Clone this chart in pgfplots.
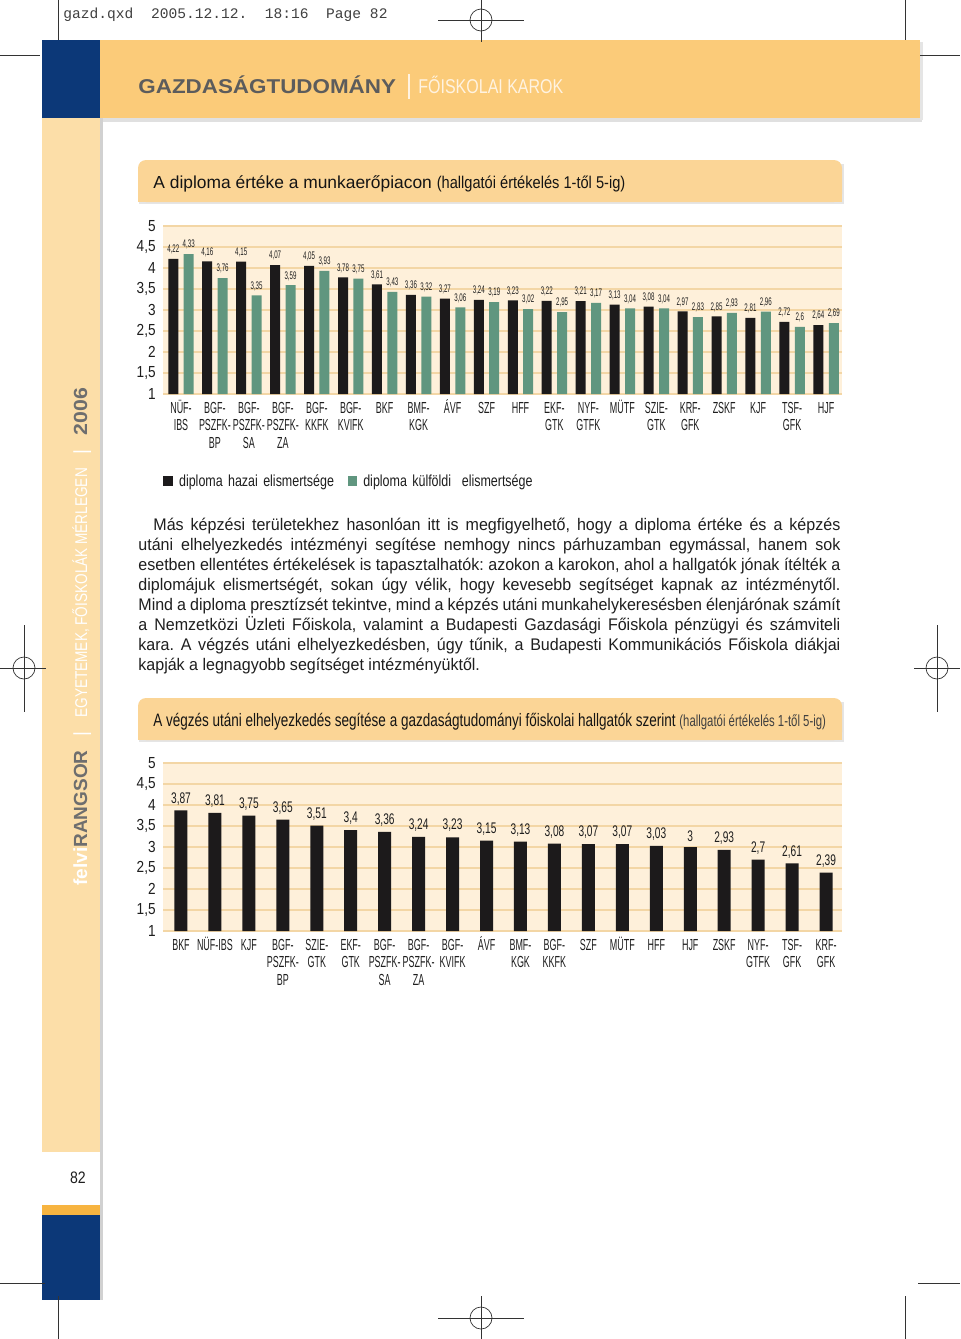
\documentclass[border=0pt]{standalone}
\usepackage{pgfplots}
\pgfplotsset{compat=1.18}
\usepackage{pgfplotstable}
\usepackage{fontspec}
\setmainfont{Liberation Sans}
\setmonofont{Liberation Mono}
\newfontfamily\fXt[FakeStretch=0.56]{Liberation Sans}
\newfontfamily\fYt[FakeStretch=0.85]{Liberation Sans}
\newfontfamily\fVa[FakeStretch=0.56]{Liberation Sans}
\newfontfamily\fVb[FakeStretch=0.66]{Liberation Sans}
\newfontfamily\fLeg[FakeStretch=0.78]{Liberation Sans}
\newfontfamily\fBody[FakeStretch=0.955]{Liberation Sans}
\newfontfamily\fTp[FakeStretch=0.86]{Liberation Sans}
\newfontfamily\fTb[FakeStretch=0.75]{Liberation Sans}
\newfontfamily\fTbp[FakeStretch=0.71]{Liberation Sans}
\newfontfamily\fWide[FakeStretch=1.12]{Liberation Sans}
\newfontfamily\fLight[FakeStretch=0.8]{Liberation Sans}
\frenchspacing
\newcommand{\V}{\vphantom{Ü}}

\definecolor{navy}{RGB}{12,56,120}
\definecolor{banner}{RGB}{251,203,121}
\definecolor{side}{RGB}{252,222,168}
\definecolor{tbox}{RGB}{251,213,150}
\definecolor{plotbg}{RGB}{254,240,218}
\definecolor{gridc}{RGB}{243,214,165}
\definecolor{tealb}{RGB}{96,150,127}
\definecolor{strip}{RGB}{247,180,64}
\definecolor{barc}{RGB}{28,26,27}
\definecolor{tickc}{RGB}{30,30,30}
\definecolor{bgray}{RGB}{92,92,92}
\definecolor{sgray}{RGB}{110,110,110}
\definecolor{lighttxt}{RGB}{255,243,225}

\pgfplotstableread{
x h k
0 4.22 4.33
1 4.16 3.76
2 4.15 3.35
3 4.07 3.59
4 4.05 3.93
5 3.78 3.75
6 3.61 3.43
7 3.36 3.32
8 3.27 3.06
9 3.24 3.19
10 3.23 3.02
11 3.22 2.95
12 3.21 3.17
13 3.13 3.04
14 3.08 3.04
15 2.97 2.83
16 2.85 2.93
17 2.81 2.96
18 2.72 2.60
19 2.64 2.69
}\dataA

\pgfplotstableread{
x v
0 3.87
1 3.81
2 3.75
3 3.65
4 3.51
5 3.4
6 3.36
7 3.24
8 3.23
9 3.15
10 3.13
11 3.08
12 3.07
13 3.07
14 3.03
15 3
16 2.93
17 2.7
18 2.61
19 2.39
}\dataB

\pgfplotsset{
 pagebar/.style={
  scale only axis, width=339.5pt, height=84pt,
  xmin=-0.53, xmax=19.47, ymin=1, ymax=5,
  ytick={1,1.5,2,2.5,3,3.5,4,4.5,5},
  xtick={0,...,19},
  axis line style={draw=none}, tick style={draw=none}, major tick length=0pt,
  ymajorgrids, grid style={gridc, line width=0.6pt},
  axis background/.style={fill=plotbg},
  ybar,
  /pgf/number format/use comma,
  /pgf/number format/assume math mode=true,
  yticklabel style={font=\fYt\fontsize{8}{9}\selectfont, text=tickc, anchor=east, inner sep=0pt, xshift=-3.5pt},
  xticklabel style={font=\fXt\fontsize{8}{8.75}\selectfont\vphantom{Ü}, text=tickc, align=center, anchor=north, inner sep=0pt, yshift=-2.75pt},
  clip=false,
 }
}

\newcommand{\pl}[2]{\node[anchor=base west, inner sep=0pt] at (138,#1) {\fBody\fontsize{8.4}{10}\selectfont\makebox[351pt][s]{#2}};}

\begin{document}
\begin{tikzpicture}
\useasboundingbox (0pt,0pt) rectangle (480pt,-669.5pt);
\begin{scope}[x=0.5pt,y=-0.5pt]
 \fill[white] (0,0) rectangle (960,1339);
 % banner and sidebar
 \fill[black!12] (100,118) rectangle (922,122);
 \fill[black!10] (920,42) rectangle (923,120);
 \fill[banner] (100,40) rectangle (920,118);
 \fill[navy] (42,40) rectangle (100,118);
 \fill[side] (42,118) rectangle (100,1152);
 \fill[strip] (42,1205) rectangle (100,1215);
 \fill[navy] (42,1215) rectangle (100,1300);
 \fill[black!18] (100,118) rectangle (103,1300);
 % title boxes
 \fill[black!10] (139,164) rectangle (844,204);
 \fill[tbox, rounded corners=4pt] (138,160) rectangle (842,202);
 \fill[tbox] (138,185) rectangle (842,202);
 \fill[black!10] (139,702) rectangle (844,742);
 \fill[tbox, rounded corners=4pt] (138,698) rectangle (842,740);
 \fill[tbox] (138,720) rectangle (842,740);
\end{scope}

% ---------- chart 1
\begin{axis}[pagebar,
  at={(81.5pt,-197pt)}, anchor=south west,
  bar width=5pt,
  xticklabels={{NÜF-\\IBS},{\V BGF-\\PSZFK-\\BP},{\V BGF-\\PSZFK-\\SA},{\V BGF-\\PSZFK-\\ZA},{\V BGF-\\KKFK},{\V BGF-\\KVIFK},BKF,{\V BMF-\\KGK},ÁVF,SZF,HFF,{\V EKF-\\GTK},{\V NYF-\\GTFK},MÜTF,{\V SZIE-\\GTK},{\V KRF-\\GFK},ZSKF,KJF,{\V TSF-\\GFK},HJF},
  nodes near coords,
  every node near coord/.append style={font=\fVa\fontsize{5.5}{6}\selectfont, text=tickc, inner sep=0pt, yshift=2.2pt, anchor=south},
  legend columns=2,
  legend style={at={(0,0)}, anchor=west, yshift=-43.5pt, draw=none, fill=none, inner sep=0pt,
    font=\fLeg\fontsize{8}{9}\selectfont, text=tickc,
    nodes={inner xsep=3.25pt, inner ysep=0pt, text width=81pt, align=left, text depth=0pt},
    column sep=0pt},
  legend image code/.code={\fill[#1] (0pt,-2.3pt) rectangle (4.6pt,2.3pt);},
]
\addplot[fill=barc, draw=none, bar shift=-3.85pt] table[x=x,y=h]{\dataA};
\addplot[fill=tealb, draw=none, bar shift=3.85pt] table[x=x,y=k]{\dataA};
\legend{\mbox{diploma hazai elismertsége}, \mbox{diploma külföldi\ \ elismertsége}}
\end{axis}

% ---------- chart 2
\begin{axis}[pagebar,
  at={(81.5pt,-465.5pt)}, anchor=south west,
  bar width=6.5pt,
  xticklabels={BKF,NÜF-IBS,KJF,{\V BGF-\\PSZFK-\\BP},{\V SZIE-\\GTK},{\V EKF-\\GTK},{\V BGF-\\PSZFK-\\SA},{\V BGF-\\PSZFK-\\ZA},{\V BGF-\\KVIFK},ÁVF,{\V BMF-\\KGK},{\V BGF-\\KKFK},SZF,MÜTF,HFF,HJF,ZSKF,{\V NYF-\\GTFK},{\V TSF-\\GFK},{\V KRF-\\GFK}},
  nodes near coords,
  every node near coord/.append style={font=\fVb\fontsize{7.7}{8}\selectfont, text=tickc, inner sep=0pt, yshift=2.5pt, anchor=south},
]
\addplot[fill=barc, draw=none, bar shift=0pt] table[x=x,y=v]{\dataB};
\end{axis}

\begin{scope}[x=0.5pt,y=-0.5pt]
 % header texts
 \node[anchor=base west, inner sep=0pt, text=black!75] at (63,18) {\ttfamily\fontsize{7.3}{8}\selectfont gazd.qxd\ \ 2005.12.12.\ \ 18:16\ \ Page 82};
 \node[anchor=base west, inner sep=0pt, text=bgray] at (138,93) {\fWide\bfseries\fontsize{10}{12}\selectfont GAZDASÁGTUDOMÁNY};
 \draw[lighttxt, line width=0.6pt] (409,74) -- (409,99);
 \node[anchor=base west, inner sep=0pt, text=lighttxt] at (418,93) {\fLight\fontsize{10}{12}\selectfont FŐISKOLAI KAROK};
 % sidebar
 \node[rotate=90, anchor=base west, inner sep=0pt] at (87,886) {\fontsize{9.5}{11}\selectfont{\color{white}\bfseries felvi}{\color{sgray}\bfseries RANGSOR}\hspace{7pt}{\color{white}|}\hspace{7pt}{\color{white}\fLight\fontsize{8.5}{10}\selectfont EGYETEMEK, FŐISKOLÁK MÉRLEGEN}\hspace{7pt}{\color{white}|}\hspace{7pt}{\color{sgray}\fWide\bfseries 2006}};
 \node[inner sep=0pt, text=tickc] at (78,1178) {\fYt\fontsize{8.3}{9}\selectfont 82};
 % titles
 \node[anchor=base west, inner sep=0pt, text=black!92] at (153,188) {\fontsize{8.7}{10}\selectfont A diploma értéke a munkaerőpiacon {\fTp\fontsize{8.5}{10}\selectfont(hallgatói értékelés 1-től 5-ig)}};
 \node[anchor=base west, inner sep=0pt, text=black!92] at (153,726) {\fTb\fontsize{9}{10}\selectfont A végzés utáni elhelyezkedés segítése a gazdaságtudományi főiskolai hallgatók szerint {\fTbp\fontsize{8}{10}\selectfont\color{black!75}(hallgatói értékelés 1-től 5-ig)}};
 % paragraph
 \begin{scope}[text=black!88]
 \pl{530}{\hspace*{7.5pt}Más képzési területekhez hasonlóan itt is megfigyelhető, hogy a diploma értéke és a képzés}
 \pl{550}{utáni elhelyezkedés intézményi segítése nemhogy nincs párhuzamban egymással, hanem sok}
 \pl{570}{esetben ellentétes értékelések is tapasztalhatók: azokon a karokon, ahol a hallgatók jónak ítélték a}
 \pl{590}{diplomájuk elismertségét, sokan úgy vélik, hogy kevesebb segítséget kapnak az intézménytől.}
 \pl{610}{Mind a diploma presztízsét tekintve, mind a képzés utáni munkahelykeresésben élenjárónak számít}
 \pl{630}{a Nemzetközi Üzleti Főiskola, valamint a Budapesti Gazdasági Főiskola pénzügyi és számviteli}
 \pl{650}{kara. A végzés utáni elhelyezkedésben, úgy tűnik, a Budapesti Kommunikációs Főiskola diákjai}
 \node[anchor=base west, inner sep=0pt] at (138,670) {\fBody\fontsize{8.4}{10}\selectfont kapják a legnagyobb segítséget intézményüktől.};
 \end{scope}
 % registration and crop marks
 \begin{scope}[line width=0.35pt, black!80]
 \draw (481,20) circle[radius=5.5pt]; \draw (481,0) -- (481,42); \draw (438,20) -- (524,20);
 \draw (481,1318) circle[radius=5.5pt]; \draw (481,1296) -- (481,1339); \draw (438,1318) -- (524,1318);
 \draw (24,668) circle[radius=5.5pt]; \draw (0,668) -- (46,668); \draw (24,625) -- (24,712);
 \draw (937,668) circle[radius=5.5pt]; \draw (914,668) -- (960,668); \draw (937,625) -- (937,712);
 \draw (58,0) -- (58,40); \draw (0,55) -- (40,55);
 \draw (905,0) -- (905,40); \draw (920,55) -- (960,55);
 \draw (58,1296) -- (58,1339); \draw (0,1283) -- (45,1283);
 \draw (905,1296) -- (905,1339); \draw (918,1283) -- (960,1283);
 \end{scope}
\end{scope}
\end{tikzpicture}
\end{document}
